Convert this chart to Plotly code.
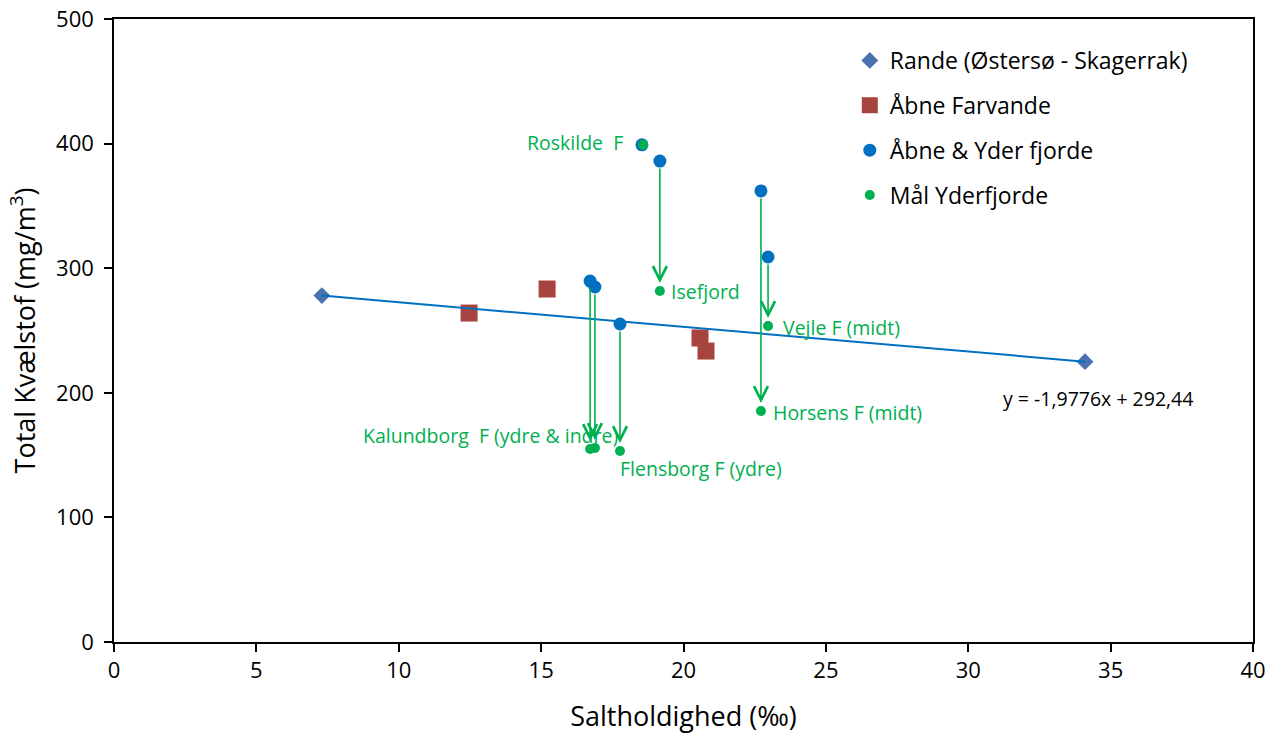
import numpy as np
import plotly.graph_objects as go

# ---------------- data ----------------
rande_x = [7.3, 34.1]
rande_y = [278.0, 225.0]

farvande_x = [12.47, 15.21, 20.58, 20.79]
farvande_y = [264.0, 283.3, 244.0, 233.5]

fjord_x = [18.54, 19.17, 22.72, 22.97, 16.72, 16.89, 17.77]
fjord_y = [399.0, 386.0, 362.0, 309.0, 289.7, 284.9, 255.2]

maal_x = [18.58, 19.17, 22.72, 22.97, 16.72, 16.89, 17.77]
maal_y = [399.0, 281.7, 185.4, 253.6, 154.9, 155.7, 153.3]

label_texts = ["Roskilde\u00a0 F", "Isefjord", "Horsens F (midt)", "Vejle F (midt)",
               "Kalundborg\u00a0 F (ydre & indre)", "Flensborg F (ydre)"]

series_names = ["Rande (Østersø - Skagerrak)", "Åbne Farvande",
                "Åbne & Yder fjorde", "Mål Yderfjorde"]

x_ticks = [0, 5, 10, 15, 20, 25, 30, 35, 40]
y_ticks = [0, 100, 200, 300, 400, 500]

# ---------------- style ----------------
FONT = "Open Sans, Lato, sans-serif"
C_RANDE = "#4A72B0"
C_FARV = "#A8443F"
C_FJORD = "#0070C0"
C_GREEN = "#00B050"

fig = go.Figure()

fig.add_trace(go.Scatter(x=rande_x, y=rande_y, mode="markers", name=series_names[0],
                         legendgroup="a",
                         marker=dict(symbol="diamond", size=13, color=C_RANDE)))
fig.add_trace(go.Scatter(x=farvande_x, y=farvande_y, mode="markers", name=series_names[1],
                         legendgroup="b",
                         marker=dict(symbol="square", size=17, color=C_FARV)))

# linear trendline through Rande series
slope, intercept = np.polyfit(rande_x, rande_y, 1)
tx = np.array([min(rande_x), max(rande_x)])
fig.add_trace(go.Scatter(x=tx, y=slope * tx + intercept, mode="lines", showlegend=False,
                         line=dict(color=C_FJORD, width=2), hoverinfo="skip"))

fig.add_trace(go.Scatter(x=fjord_x, y=fjord_y, mode="markers", name=series_names[2],
                         legendgroup="c",
                         marker=dict(symbol="circle", size=13, color=C_FJORD)))
fig.add_trace(go.Scatter(x=maal_x, y=maal_y, mode="markers", name=series_names[3],
                         legendgroup="d",
                         marker=dict(symbol="circle", size=10, color=C_GREEN)))

# arrows from current to target
for sx, sy, ex, ey in zip(fjord_x, fjord_y, maal_x, maal_y):
    if abs(sy - ey) < 1:
        continue
    fig.add_annotation(x=ex, y=ey, ax=sx, ay=sy, xref="x", yref="y", axref="x", ayref="y",
                       text="", showarrow=True, arrowhead=5, arrowsize=1.7, arrowwidth=1.6,
                       arrowcolor=C_GREEN, standoff=8, startstandoff=6)

# labels (position anchors for text)
label_pos = [(17.95, 400.5, "right"), (19.49, 281.7, "left"), (23.07, 183.8, "left"),
             (23.42, 252.8, "left"), (8.67, 166.1, "left"), (17.70, 139.6, "left")]
for t, (lx, ly, anc) in zip(label_texts, label_pos):
    fig.add_annotation(x=lx, y=ly, xref="x", yref="y", text=t, showarrow=False,
                       xanchor=anc, yanchor="middle",
                       font=dict(family=FONT, size=19.5, color=C_GREEN))

eq_text = "y = {:.4f}x + {:.2f}".format(slope, intercept).replace(".", ",")
fig.add_annotation(x=31.15, y=195.8, xref="x", yref="y", text=eq_text, showarrow=False,
                   xanchor="left", yanchor="middle",
                   font=dict(family=FONT, size=19.5, color="#000"))

fig.update_xaxes(range=[0, 40], tickvals=x_ticks, showgrid=False, zeroline=False,
                 showline=True, linecolor="#000", linewidth=1.5, mirror=True,
                 ticks="outside", ticklen=8, tickcolor="#000", tickwidth=1.5,
                 automargin=False,
                 tickfont=dict(family=FONT, size=22, color="#000"),
                 title=dict(text="Saltholdighed (‰)", standoff=25,
                            font=dict(family=FONT, size=27, color="#000")))
fig.update_yaxes(range=[0, 500], tickvals=y_ticks, showgrid=False, zeroline=False,
                 showline=True, linecolor="#000", linewidth=1.5, mirror=True,
                 ticks="outside", ticklen=8, tickcolor="#000", tickwidth=1.5,
                 ticklabelstandoff=6,
                 automargin=False,
                 tickfont=dict(family=FONT, size=22, color="#000"),
                 title=dict(text="Total Kvælstof (mg/m<sup>3</sup>)", standoff=13,
                            font=dict(family=FONT, size=27, color="#000")))

fig.update_layout(
    width=1276, height=734,
    margin=dict(l=114, r=23, t=19, b=92),
    plot_bgcolor="white", paper_bgcolor="white",
    showlegend=True,
    legend=dict(x=0.646, y=0.968, xanchor="left", yanchor="top",
                bgcolor="rgba(0,0,0,0)", borderwidth=0, tracegroupgap=12,
                font=dict(family=FONT, size=23, color="#000")),
)

fig.write_html("out.html", config={"displayModeBar": False},
               post_script="document.body.style.margin='0';")
